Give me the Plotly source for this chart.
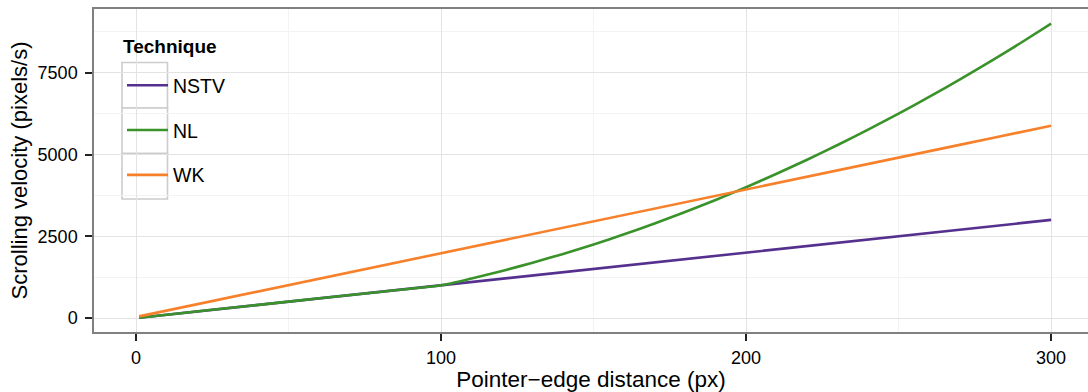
import plotly.graph_objects as go

# ---- data ----
distance = [1, 25, 50, 75, 100, 110, 120, 130, 140, 150, 160, 170, 180, 190, 200,
            210, 220, 230, 240, 250, 260, 270, 280, 290, 300]
nstv = [10, 250, 500, 750, 1000, 1100, 1200, 1300, 1400, 1500, 1600, 1700, 1800, 1900, 2000,
        2100, 2200, 2300, 2400, 2500, 2600, 2700, 2800, 2900, 3000]
nl = [10, 250, 500, 750, 1000, 1210, 1440, 1690, 1960, 2250, 2560, 2890, 3240, 3610, 4000,
      4410, 4840, 5290, 5760, 6250, 6760, 7290, 7840, 8410, 9000]
wk = [50, 520, 1005, 1490, 1980, 2175, 2370, 2565, 2760, 2955, 3150, 3345, 3540, 3735, 3930,
      4125, 4320, 4515, 4710, 4905, 5100, 5295, 5490, 5685, 5880]
series_names = ["NSTV", "NL", "WK"]
series_values = [nstv, nl, wk]
colors = ["#55308f", "#3a922a", "#f7812b"]
x_ticks = [0, 100, 200, 300]
y_ticks = [0, 2500, 5000, 7500]
legend_title = "Technique"

W, H = 1088, 392
ML, MR, MT, MB = 94, 0, 9, 60
PW, PH = W - ML - MR, H - MT - MB

FONT = "Liberation Sans, Arial, Helvetica, sans-serif"

fig = go.Figure()
for name, vals, col in zip(series_names, series_values, colors):
    fig.add_trace(go.Scatter(x=distance, y=vals, mode="lines", name=name,
                             legendgroup=name,
                             line=dict(color=col, width=2.6,
                                       shape="spline" if name == "NL" else "linear",
                                       smoothing=0.6)))


def px_x(p):
    return (p - ML) / PW


def px_y(p):
    return (H - MB - p) / PH


# legend key boxes (ggplot style)
shapes = []
for top, bot in [(62.5, 108), (108, 153.5), (153.5, 199)]:
    shapes.append(dict(type="rect", xref="paper", yref="paper",
                       x0=px_x(122), x1=px_x(167.5), y0=px_y(bot), y1=px_y(top),
                       fillcolor="white", line=dict(color="#cccccc", width=1.6),
                       layer="below"))

fig.update_layout(
    width=W, height=H,
    margin=dict(l=ML, r=MR, t=MT, b=MB, pad=0),
    paper_bgcolor="white", plot_bgcolor="white",
    font=dict(family=FONT, size=18, color="black"),
    shapes=shapes,
    annotations=[dict(text="<b>" + legend_title + "</b>", xref="paper", yref="paper",
                      x=px_x(121), y=px_y(46), xanchor="left", yanchor="middle",
                      showarrow=False, font=dict(size=19, family=FONT, color="black"))],
    showlegend=True,
    legend=dict(
        x=px_x(122), y=px_y(66), xanchor="left", yanchor="top",
        bgcolor="rgba(0,0,0,0)", borderwidth=0,
        font=dict(size=19.5, family=FONT),
        itemwidth=41, tracegroupgap=16.5, traceorder="grouped",
    ),
    xaxis=dict(
        range=[-13.8, 312.1], tickvals=x_ticks, ticks="outside", ticklen=7,
        tickcolor="#222222", tickwidth=1.5,
        showgrid=True, gridcolor="#e3e3e3", gridwidth=1,
        minor=dict(dtick=50, tick0=0, showgrid=True, gridcolor="#f3f3f3", gridwidth=1),
        showline=True, linecolor="#808080", linewidth=1.5, mirror=True,
        zeroline=False,
        title=dict(text="Pointer\u2212edge distance (px)", font=dict(size=22.5), standoff=6),
        tickfont=dict(size=18), ticklabelstandoff=2,
    ),
    yaxis=dict(
        range=[-428, 9450], tickvals=y_ticks, ticks="outside", ticklen=7,
        tickcolor="#222222", tickwidth=1.5,
        showgrid=True, gridcolor="#e3e3e3", gridwidth=1,
        minor=dict(dtick=1250, tick0=1250, showgrid=True, gridcolor="#f3f3f3", gridwidth=1),
        showline=True, linecolor="#808080", linewidth=1.5, mirror=False,
        zeroline=False,
        title=dict(text="Scrolling velocity (pixels/s)", font=dict(size=22), standoff=4),
        tickfont=dict(size=18), ticklabelstandoff=4,
    ),
)

fig.write_html("out.html", config={"displayModeBar": False},
               post_script="document.body.style.margin='0';")
